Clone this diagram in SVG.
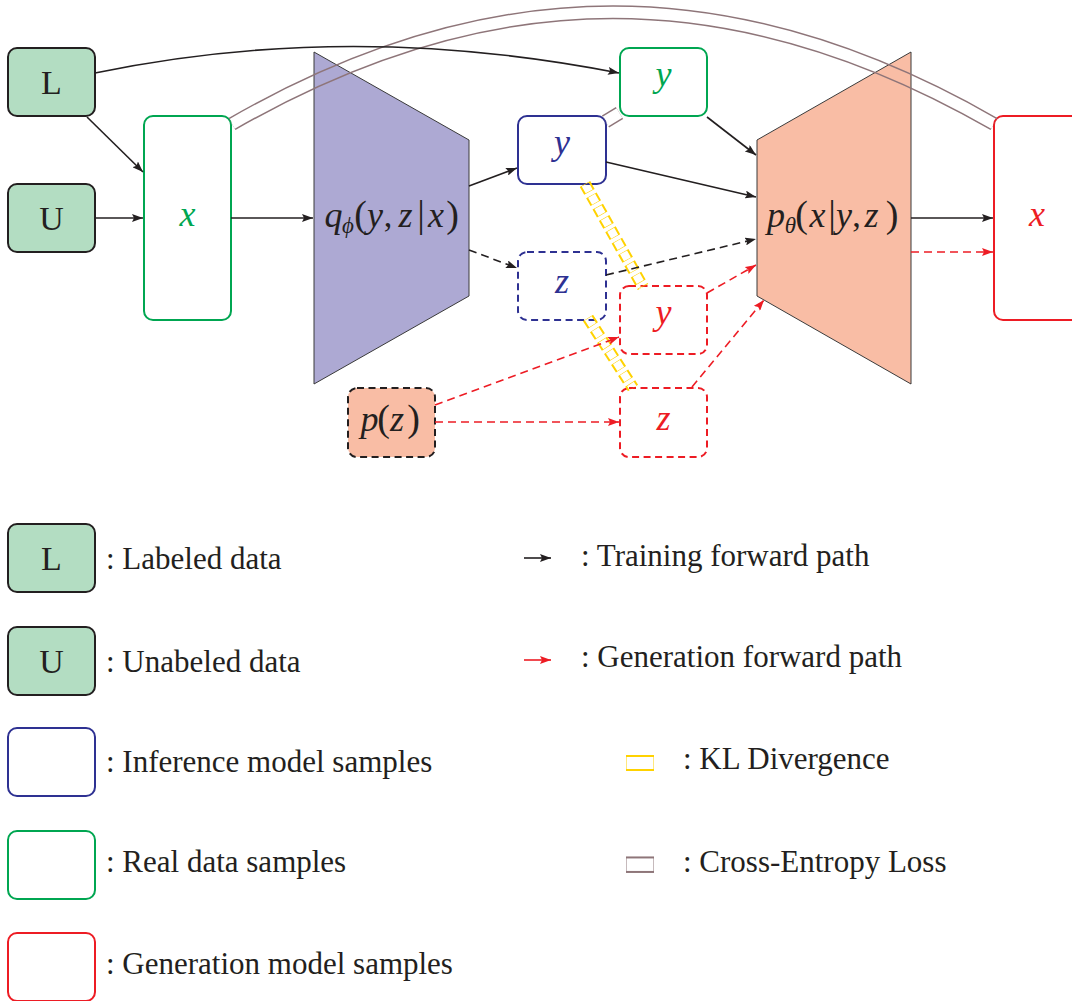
<svg xmlns="http://www.w3.org/2000/svg" width="1072" height="1001" viewBox="0 0 1072 1001">
<style>
.t{font-family:"Liberation Serif","DejaVu Serif",serif;fill:#231f20}
.m{font-family:"Liberation Serif","DejaVu Serif",serif;font-style:italic;font-size:36px}
.pp{font-size:38px}
.ln{fill:none;stroke:#231f20;stroke-width:1.6}
.rd{fill:none;stroke:#ed1c24;stroke-width:1.6;stroke-dasharray:8 5}
.bd{fill:none;stroke:#231f20;stroke-width:1.6;stroke-dasharray:8 5}
.gbox{fill:#b3ddc2;stroke:#231f20;stroke-width:2}
.green{fill:#fff;stroke:#00a651;stroke-width:2}
.blue{fill:#fff;stroke:#2e3192;stroke-width:2}
.red{fill:#fff;stroke:#ed1c24;stroke-width:2}
.dash{stroke-dasharray:7 4.5}
</style>
<defs>
<marker id="ab" viewBox="0 0 11 8" refX="11" refY="4" markerWidth="11" markerHeight="8" orient="auto" markerUnits="userSpaceOnUse"><path d="M0,0 L11,4 L0,8 L2,4 z" fill="#231f20"/></marker>
<marker id="ar" viewBox="0 0 11 8" refX="11" refY="4" markerWidth="11" markerHeight="8" orient="auto" markerUnits="userSpaceOnUse"><path d="M0,0 L11,4 L0,8 L2,4 z" fill="#ed1c24"/></marker>
<mask id="mBrown" maskUnits="userSpaceOnUse" x="0" y="0" width="1072" height="1001">
<rect width="1072" height="1001" fill="#fff"/>
<g fill="none" stroke="#000">
<path d="M232,124 C491,-25 735,-25 994,124" stroke-width="11"/>
<path d="M605.5,121.5 L619.5,113" stroke-width="11"/>
<path d="M626.5,864.7 L653.5,864.7" stroke-width="12.5"/>
</g>
</mask>
<mask id="mYellow" maskUnits="userSpaceOnUse" x="0" y="0" width="1072" height="1001">
<rect width="1072" height="1001" fill="#fff"/>
<g fill="none" stroke="#000" stroke-width="8" stroke-dasharray="8 5" stroke-dashoffset="-0.5">
<path d="M585,184 L643,287"/>
<path d="M588,318 L633,388"/>
</g>
<path d="M626.5,763 L653.5,763" stroke="#000" stroke-width="12" fill="none"/>
</mask>
</defs>
<rect width="1072" height="1001" fill="#fff"/>

<!-- encoder / decoder trapezoids -->
<g id="encoder">
<polygon points="314,52 469,140 469,296 314,384" fill="#ada9d3" stroke="#3a3a3a" stroke-width="1"/>
<text class="t" font-size="34" y="227" text-anchor="middle"><tspan class="m" x="333.5">q</tspan><tspan class="m" x="348" y="233" style="font-size:23px">ϕ</tspan><tspan class="pp" x="360.5" y="227">(</tspan><tspan class="m" x="375">y</tspan><tspan x="388">,</tspan><tspan class="m" x="405.5">z</tspan><tspan class="pp" x="421">|</tspan><tspan class="m" x="436">x</tspan><tspan class="pp" x="452.5">)</tspan></text>
</g>
<g id="decoder">
<polygon points="757,140 911,52 911,384 757,296" fill="#f9bda5" stroke="#3a3a3a" stroke-width="1"/>
<text class="t" font-size="34" y="227" text-anchor="middle"><tspan class="m" x="776">p</tspan><tspan class="m" x="790.5" y="233" style="font-size:23px">θ</tspan><tspan class="pp" x="801.5" y="227">(</tspan><tspan class="m" x="817.5">x</tspan><tspan class="pp" x="832">|</tspan><tspan class="m" x="844">y</tspan><tspan x="856.5">,</tspan><tspan class="m" x="871.5">z</tspan><tspan class="pp" x="892">)</tspan></text>
</g>

<!-- nodes -->
<g id="node-L"><rect class="gbox" x="8" y="48" width="87" height="68" rx="9"/><text class="t" x="51.5" y="94" font-size="34" text-anchor="middle">L</text></g>
<g id="node-U"><rect class="gbox" x="8" y="184" width="87" height="68" rx="9"/><text class="t" x="51.5" y="230" font-size="34" text-anchor="middle">U</text></g>
<g id="node-x-real"><rect class="green" x="144" y="116" width="87" height="204" rx="9"/><text class="m" x="187.5" y="226" fill="#00a651" text-anchor="middle">x</text></g>
<g id="node-y-inf"><rect class="blue" x="518" y="116" width="88" height="68" rx="9"/><text class="m" x="562" y="154" fill="#2e3192" text-anchor="middle">y</text></g>
<g id="node-y-real"><rect class="green" x="620" y="48" width="87" height="68" rx="9"/><text class="m" x="663.5" y="86" fill="#00a651" text-anchor="middle">y</text></g>
<g id="node-z-inf"><rect class="blue dash" x="518" y="252" width="88" height="68" rx="9"/><text class="m" x="562" y="293" fill="#2e3192" text-anchor="middle">z</text></g>
<g id="node-y-gen"><rect class="red dash" x="620" y="286" width="87" height="68" rx="9"/><text class="m" x="663.5" y="324" fill="#ed1c24" text-anchor="middle">y</text></g>
<g id="node-z-gen"><rect class="red dash" x="620" y="388" width="87" height="69" rx="9"/><text class="m" x="663.5" y="430" fill="#ed1c24" text-anchor="middle">z</text></g>
<g id="node-pz"><rect x="348" y="388" width="87" height="69" rx="9" fill="#f9bda5" stroke="#231f20" stroke-width="2" stroke-dasharray="7 4.5"/><text class="t" font-size="34" y="431" text-anchor="middle"><tspan class="m" x="369.5">p</tspan><tspan class="pp" x="383.5">(</tspan><tspan class="m" x="397">z</tspan><tspan class="pp" x="413.5">)</tspan></text></g>
<g id="node-x-gen"><rect class="red" x="994" y="116" width="88" height="204" rx="9"/><text class="m" x="1037" y="226" fill="#ed1c24" text-anchor="middle">x</text></g>

<!-- losses -->
<g id="losses">
<g mask="url(#mBrown)" fill="none" stroke="#8e7579">
<path d="M232,124 C491,-25 735,-25 994,124" stroke-width="14"/>
<path d="M605.5,121.5 L619.5,113" stroke-width="14"/>
</g>
<g mask="url(#mYellow)" fill="none" stroke="#ffd200">
<path d="M585,184 L643,287" stroke-width="12" stroke-dasharray="9 4"/>
<path d="M588,318 L633,388" stroke-width="12" stroke-dasharray="9 4"/>
</g>
</g>

<!-- connectors -->
<g id="connectors">
<path class="ln" d="M95,73 Q350,20 619,73" marker-end="url(#ab)"/>
<path class="ln" d="M87,117 L143,172" marker-end="url(#ab)"/>
<path class="ln" d="M95,218 L143,218" marker-end="url(#ab)"/>
<path class="ln" d="M231,218 L313,218" marker-end="url(#ab)"/>
<path class="ln" d="M469,186 L517,168" marker-end="url(#ab)"/>
<path class="bd" d="M469,250 L517,268" marker-end="url(#ab)"/>
<path class="ln" d="M606,162 L756,197" marker-end="url(#ab)"/>
<path class="ln" d="M707,117 L756,155" marker-end="url(#ab)"/>
<path class="bd" d="M606,275 L756,239" marker-end="url(#ab)"/>
<path class="rd" d="M707,293 L756,265" marker-end="url(#ar)"/>
<path class="rd" d="M692,387 L764,300" marker-end="url(#ar)"/>
<path class="rd" d="M435,405 L619,337" marker-end="url(#ar)"/>
<path class="rd" d="M435,422 L619,422" marker-end="url(#ar)"/>
<path class="ln" d="M911,218 L993,218" marker-end="url(#ab)"/>
<path class="rd" d="M911,252 L993,252" marker-end="url(#ar)"/>
</g>

<!-- legend -->
<g id="legend">
<g id="leg-L"><rect class="gbox" x="8" y="524" width="87" height="68" rx="9"/><text class="t" x="51.5" y="570" font-size="34" text-anchor="middle">L</text><text class="t" x="106" y="569" font-size="31">: Labeled data</text></g>
<g id="leg-U"><rect class="gbox" x="8" y="627" width="87" height="68" rx="9"/><text class="t" x="51.5" y="673" font-size="34" text-anchor="middle">U</text><text class="t" x="106" y="672" font-size="31">: Unabeled data</text></g>
<g id="leg-inf"><rect class="blue" x="8" y="728" width="87" height="68" rx="9"/><text class="t" x="106" y="772" font-size="31">: Inference model samples</text></g>
<g id="leg-real"><rect class="green" x="8" y="831" width="87" height="68" rx="9"/><text class="t" x="106" y="872" font-size="31">: Real data samples</text></g>
<g id="leg-gen"><rect class="red" x="8" y="933" width="87" height="68" rx="9"/><text class="t" x="106" y="974" font-size="31">: Generation model samples</text></g>
<g id="leg-train"><path class="ln" d="M524,558 L551,558" marker-end="url(#ab)"/><text class="t" x="581" y="566" font-size="31">: Training forward path</text></g>
<g id="leg-genpath"><path d="M524,660 L551,660" fill="none" stroke="#ed1c24" stroke-width="1.6" marker-end="url(#ar)"/><text class="t" x="581" y="667" font-size="31">: Generation forward path</text></g>
<g id="leg-kl"><path d="M626,763 L654,763" fill="none" stroke="#ffd200" stroke-width="16" mask="url(#mYellow)"/><text class="t" x="683" y="769" font-size="31">: KL Divergence</text></g>
<g id="leg-ce"><path d="M626,864.7 L654,864.7" fill="none" stroke="#8e7579" stroke-width="16.5" mask="url(#mBrown)"/><text class="t" x="683" y="872" font-size="31">: Cross-Entropy Loss</text></g>
</g>
</svg>
